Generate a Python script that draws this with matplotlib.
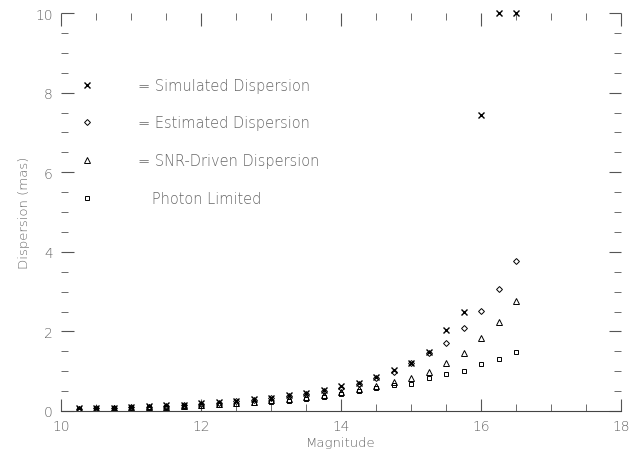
"""
dispersion versus magnitude: simulated, estimated, SNR-driven and photon limited
"""
import matplotlib
matplotlib.use("Agg")
import matplotlib.pyplot as plt
from matplotlib.ticker import MultipleLocator

# magnitudes of the sample points
mag = [10.25, 10.5, 10.75, 11.0, 11.25, 11.5, 11.75, 12.0, 12.25, 12.5,
       12.75, 13.0, 13.25, 13.5, 13.75, 14.0, 14.25, 14.5, 14.75, 15.0,
       15.25, 15.5, 15.75, 16.0, 16.25, 16.5]

# dispersion in mas (values above 10 sit on the top axis)
simulated = [0.07, 0.07, 0.08, 0.09, 0.12, 0.14, 0.16, 0.19, 0.22, 0.26,
             0.30, 0.33, 0.39, 0.45, 0.52, 0.63, 0.71, 0.86, 1.04, 1.21,
             1.47, 2.03, 2.49, 7.44, 10.0, 10.0]
estimated = [0.06, 0.07, 0.08, 0.09, 0.11, 0.13, 0.15, 0.18, 0.21, 0.24,
             0.28, 0.32, 0.37, 0.43, 0.50, 0.58, 0.68, 0.82, 0.99, 1.20,
             1.45, 1.70, 2.08, 2.52, 3.06, 3.76]
snr_driven = [0.05, 0.06, 0.07, 0.08, 0.09, 0.11, 0.13, 0.15, 0.17, 0.20,
              0.23, 0.27, 0.31, 0.35, 0.41, 0.47, 0.55, 0.63, 0.72, 0.82,
              0.97, 1.20, 1.46, 1.83, 2.23, 2.76]
photon = [0.05, 0.06, 0.07, 0.08, 0.09, 0.10, 0.12, 0.13, 0.15, 0.17,
          0.20, 0.23, 0.26, 0.30, 0.36, 0.43, 0.51, 0.57, 0.66, 0.69,
          0.82, 0.93, 1.01, 1.18, 1.31, 1.47]

labels = ["= Simulated Dispersion", "= Estimated Dispersion",
          "= SNR-Driven Dispersion", "   Photon Limited"]

txt = "#666666"

fig = plt.figure(figsize=(6.39, 4.52), dpi=100)
ax = fig.add_axes([0.0955, 0.0885, 0.8765, 0.8805])

ax.plot(mag, simulated, "x", color="black", ms=4, mew=1.0, clip_on=False, label=labels[0])
ax.plot(mag, estimated, "D", mfc="none", mec="black", ms=3, mew=0.7, label=labels[1])
ax.plot(mag, snr_driven, "^", mfc="none", mec="black", ms=4, mew=0.7, label=labels[2])
ax.plot(mag, photon, "s", mfc="none", mec="black", ms=3.5, mew=0.7, label=labels[3])

ax.set_xlim(10, 18)
ax.set_ylim(0, 10)
ax.xaxis.set_major_locator(MultipleLocator(2))
ax.xaxis.set_minor_locator(MultipleLocator(0.5))
ax.yaxis.set_major_locator(MultipleLocator(2))
ax.yaxis.set_minor_locator(MultipleLocator(0.5))
ax.tick_params(which="both", direction="in", top=True, right=True,
               color="#555555", labelcolor=txt, labelsize=10, pad=6)
ax.tick_params(which="major", length=9, width=0.8)
ax.tick_params(which="minor", length=5, width=0.6)
for lab in ax.get_xticklabels() + ax.get_yticklabels():
    lab.set_fontweight("light")

for side in ["left", "right", "top"]:
    ax.spines[side].set_visible(False)
ax.spines["bottom"].set_color("#444444")
ax.spines["bottom"].set_linewidth(0.8)

ax.set_xlabel("Magnitude", color=txt, fontsize=9.5, labelpad=2, fontweight="light")
ax.set_ylabel("Dispersion (mas)", color=txt, fontsize=9.5, labelpad=4, fontweight="light")

leg = ax.legend(loc="upper left", bbox_to_anchor=(0.01, 0.87), frameon=False,
                prop={"size": 10.5, "weight": "light"}, labelspacing=1.55,
                handlelength=1.0, handletextpad=3.0, labelcolor=txt)

plt.savefig("out.png", dpi=100)
